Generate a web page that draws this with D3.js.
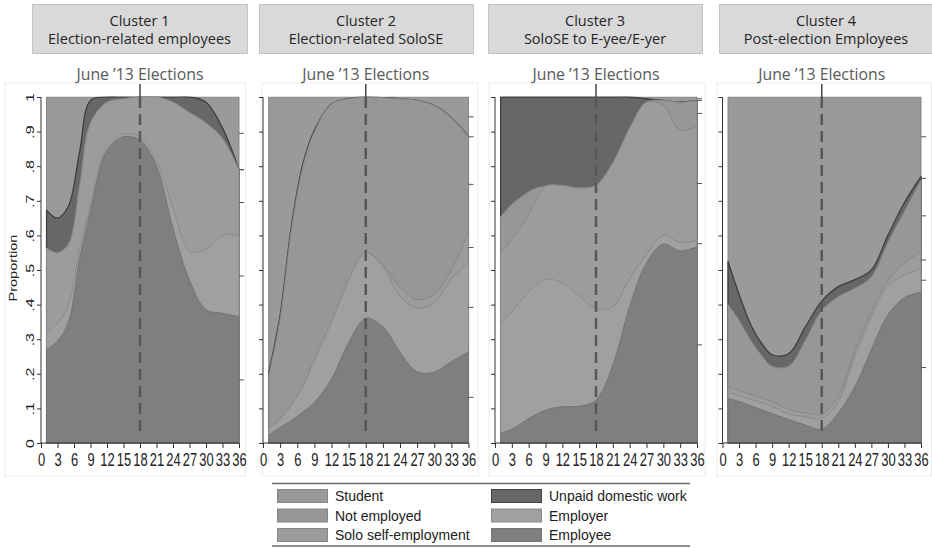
<!DOCTYPE html>
<html>
<head>
<meta charset="utf-8">
<script src="https://cdn.jsdelivr.net/npm/d3@7"></script>
<style>
  body { margin: 0; background: #fff; }
  svg { display: block; }
</style>
</head>
<body>
<svg id="chart" width="932" height="548"></svg>
<script>
// ---- data -------------------------------------------------------------
const months = [1, 3, 5, 7, 9, 12, 15, 18, 21, 24, 27, 30, 33, 36];
const xTicks = [0, 3, 6, 9, 12, 15, 18, 21, 24, 27, 30, 33, 36];
const yTicks = [0, 0.1, 0.2, 0.3, 0.4, 0.5, 0.6, 0.7, 0.8, 0.9, 1];
const yTickLabels = ["0", ".1", ".2", ".3", ".4", ".5", ".6", ".7", ".8", ".9", "1"];
const yAxisTitle = "Proportion";

const clusterTitles = ["Cluster 1", "Cluster 2", "Cluster 3", "Cluster 4"];
const clusterNames = ["Election-related employees", "Election-related SoloSE",
                      "SoloSE to E-yee/E-yer", "Post-election Employees"];
const eventLabel = "June \u201913 Elections";
const eventMonth = 18;

// stacking order, bottom to top
const seriesNames = ["Employee", "Employer", "Solo self-employment",
                     "Not employed", "Unpaid domestic work", "Student"];

// proportions per cluster (one row per cluster, one value per entry of months)
const employee = [
  [0.27, 0.295, 0.35, 0.53, 0.67, 0.845, 0.885, 0.875, 0.80, 0.62, 0.47, 0.385, 0.375, 0.365],
  [0.023, 0.045, 0.065, 0.09, 0.117, 0.185, 0.29, 0.36, 0.336, 0.262, 0.206, 0.205, 0.235, 0.264],
  [0.028, 0.04, 0.06, 0.08, 0.095, 0.105, 0.106, 0.124, 0.225, 0.395, 0.52, 0.575, 0.555, 0.567],
  [0.129, 0.12, 0.108, 0.097, 0.085, 0.068, 0.052, 0.04, 0.087, 0.162, 0.27, 0.37, 0.42, 0.436]
];
const employer = [
  [0.05, 0.05, 0.05, 0.03, 0.02, 0.01, 0.008, 0.01, 0.015, 0.06, 0.085, 0.175, 0.225, 0.235],
  [0.019, 0.025, 0.045, 0.075, 0.123, 0.165, 0.18, 0.19, 0.174, 0.163, 0.184, 0.20, 0.24, 0.256],
  [0.322, 0.339, 0.358, 0.372, 0.378, 0.358, 0.319, 0.265, 0.169, 0.08, 0.025, 0.025, 0.025, 0.018],
  [0.017, 0.017, 0.019, 0.02, 0.021, 0.016, 0.024, 0.031, 0.033, 0.088, 0.095, 0.085, 0.065, 0.069]
];
const soloSelfEmployment = [
  [0.243, 0.205, 0.175, 0.18, 0.235, 0.13, 0.102, 0.115, 0.185, 0.305, 0.40, 0.365, 0.28, 0.19],
  [0, 0, 0, 0, 0, 0, 0, 0, 0.005, 0.025, 0.025, 0.025, 0.025, 0.09],
  [0.198, 0.211, 0.217, 0.238, 0.269, 0.281, 0.312, 0.356, 0.416, 0.435, 0.44, 0.375, 0.325, 0.33],
  [0.015, 0.015, 0.014, 0.013, 0.014, 0.013, 0.011, 0.013, 0.015, 0.015, 0.015, 0.015, 0.035, 0.048]
];
const notEmployed = [
  [0, 0, 0, 0, 0, 0, 0, 0, 0, 0, 0, 0, 0, 0],
  [0.153, 0.29, 0.51, 0.635, 0.66, 0.63, 0.525, 0.45, 0.483, 0.545, 0.575, 0.545, 0.44, 0.275],
  [0.106, 0.10, 0.08, 0.045, 0, 0, 0, 0, 0, 0, 0, 0.015, 0.08, 0.075],
  [0.239, 0.203, 0.159, 0.125, 0.102, 0.125, 0.209, 0.299, 0.288, 0.182, 0.10, 0.11, 0.15, 0.207]
];
const unpaidDomesticWork = [
  [0.11, 0.10, 0.11, 0.10, 0.065, 0.015, 0.005, 0, 0, 0.015, 0.045, 0.06, 0.03, 0],
  [0.008, 0.01, 0.01, 0.008, 0.004, 0, 0, 0, 0, 0, 0, 0, 0, 0],
  [0.346, 0.31, 0.285, 0.265, 0.258, 0.256, 0.263, 0.255, 0.19, 0.09, 0.01, 0, 0, 0],
  [0.125, 0.075, 0.046, 0.035, 0.033, 0.036, 0.039, 0.027, 0.029, 0.025, 0.02, 0.02, 0.025, 0.01]
];
const student = [
  [0.327, 0.35, 0.315, 0.16, 0.01, 0, 0, 0, 0, 0, 0, 0.015, 0.09, 0.21],
  [0.797, 0.63, 0.37, 0.192, 0.096, 0.02, 0.005, 0, 0.002, 0.005, 0.01, 0.025, 0.06, 0.115],
  [0, 0, 0, 0, 0, 0, 0, 0, 0, 0, 0.005, 0.01, 0.015, 0.01],
  [0.475, 0.57, 0.654, 0.71, 0.745, 0.742, 0.665, 0.59, 0.548, 0.528, 0.50, 0.40, 0.305, 0.23]
];
const seriesValues = [employee, employer, soloSelfEmployment, notEmployed, unpaidDomesticWork, student];

// legend is filled row by row in two columns
const legendOrder = ["Student", "Unpaid domestic work", "Not employed", "Employer",
                     "Solo self-employment", "Employee"];

// ---- styles -----------------------------------------------------------
const fillColor = {
  "Employee": "#7f7f7f",
  "Employer": "#a0a0a0",
  "Solo self-employment": "#9c9c9c",
  "Not employed": "#979797",
  "Unpaid domestic work": "#676767",
  "Student": "#9a9a9a"
};
const lineColor = {
  "Employee": "#747474",
  "Employer": "#8a8a8a",
  "Solo self-employment": "#878787",
  "Not employed": "#858585",
  "Unpaid domestic work": "#3e3e3e",
  "Student": "#868686"
};

const panels = [
  { x0: 41,    x36: 239,   frame: [5, 245.5],   header: [32, 247] },
  { x0: 263,   x36: 468.5, frame: [262, 478],   header: [259, 473] },
  { x0: 495,   x36: 697,   frame: [489, 705],   header: [488, 702] },
  { x0: 722.5, x36: 921,   frame: [717, 931.5], header: [719, 933] }
];
const plotTop = 97, plotBottom = 443;
const frameTop = 83, frameBottom = 476;
const tickFont = "'Liberation Sans', Arial, sans-serif";

const svg = d3.select("#chart");
const defs = svg.append("defs");
const y = d3.scaleLinear().domain([0, 1]).range([plotBottom, plotTop]);

panels.forEach((p, c) => {
  const g = svg.append("g");
  const x = d3.scaleLinear().domain([0, 36]).range([p.x0, p.x36]);

  // panel frame
  g.append("rect")
    .attr("x", p.frame[0]).attr("y", frameTop)
    .attr("width", p.frame[1] - p.frame[0]).attr("height", frameBottom - frameTop)
    .attr("fill", "#fff").attr("stroke", "#ececec").attr("stroke-width", 1);

  // header box
  g.append("rect")
    .attr("x", p.header[0] + 0.5).attr("y", 4.5)
    .attr("width", p.header[1] - p.header[0]).attr("height", 49)
    .attr("fill", "#d9d9d9").attr("stroke", "#c4c4c4").attr("stroke-width", 1);
  const hx = (p.header[0] + p.header[1]) / 2;
  g.append("text").attr("x", hx).attr("y", 26)
    .attr("text-anchor", "middle").attr("font-family", "'Open Sans', sans-serif")
    .attr("font-size", 14.5).attr("fill", "#262626").text(clusterTitles[c]);
  g.append("text").attr("x", hx).attr("y", 44)
    .attr("text-anchor", "middle").attr("font-family", "'Open Sans', sans-serif")
    .attr("font-size", 14.5).attr("fill", "#262626").text(clusterNames[c]);

  // stacked proportions
  const rows = months.map((m, i) => {
    const r = { month: m };
    seriesNames.forEach((s, k) => { r[s] = seriesValues[k][c][i]; });
    return r;
  });
  const stacked = d3.stack().keys(seriesNames)(rows);

  // keep the smoothed curves inside the plot rectangle
  const clipId = `plot-clip-${c}`;
  defs.append("clipPath").attr("id", clipId)
    .append("rect")
    .attr("x", x(months[0]) - 1).attr("y", y(1) - 0.6)
    .attr("width", x(36) - x(months[0]) + 2).attr("height", y(0) - y(1) + 1.2);
  const plot = g.append("g").attr("clip-path", `url(#${clipId})`);

  // each layer is filled from 0 up to its cumulative top, top layer drawn first
  const area = d3.area()
    .x(d => x(d.data.month))
    .y0(y(0))
    .y1(d => y(Math.min(1, d[1])))
    .curve(d3.curveCatmullRom.alpha(0.5));
  stacked.slice().reverse().forEach(layer => {
    plot.append("path")
      .attr("d", area(layer))
      .attr("fill", fillColor[layer.key])
      .attr("stroke", lineColor[layer.key])
      .attr("stroke-width", layer.key === "Unpaid domestic work" ? 1.3 : 1)
      .attr("stroke-linejoin", "round");
  });

  // right-hand ticks at the middle of each band in the last month
  const last = months.length - 1;
  stacked.forEach(layer => {
    const mid = (layer[last][0] + layer[last][1]) / 2;
    g.append("line")
      .attr("x1", x(36)).attr("x2", x(36) + 5)
      .attr("y1", y(mid)).attr("y2", y(mid))
      .attr("stroke", "#555").attr("stroke-width", 1);
  });

  // axes
  const ax = g.append("g").attr("transform", `translate(0,${plotBottom})`)
    .call(d3.axisBottom(x).tickValues(xTicks).tickSize(5).tickFormat(""));
  ax.select(".domain").attr("stroke", "#333").attr("d", `M${x(0)},0H${x(36)}`);
  ax.selectAll(".tick line").attr("stroke", "#333");
  ax.selectAll(".tick").append("text")
    .attr("transform", "translate(0,23) scale(0.7,1)")
    .attr("text-anchor", "middle")
    .attr("font-family", tickFont)
    .attr("font-size", 18.5).attr("fill", "#222")
    .text(d => d);

  const ay = g.append("g").attr("transform", `translate(${x(0)},0)`)
    .call(d3.axisLeft(y).tickValues(yTicks).tickSize(4).tickFormat(""));
  ay.select(".domain").attr("stroke", "#333").attr("d", `M0,${y(0)}V${y(1)}`);
  ay.selectAll(".tick line").attr("stroke", "#333");
  if (c === 0) {
    ay.selectAll(".tick").append("text")
      .attr("transform", "translate(-7.5,0) scale(0.68,1) rotate(-90)")
      .attr("text-anchor", "middle")
      .attr("font-family", tickFont)
      .attr("font-size", 16).attr("fill", "#222")
      .text((d, i) => yTickLabels[i]);
    g.append("text")
      .attr("transform", `translate(17,${(plotTop + plotBottom) / 2 - 2}) scale(0.7,1) rotate(-90)`)
      .attr("text-anchor", "middle")
      .attr("font-family", tickFont)
      .attr("font-size", 14.5).attr("fill", "#222")
      .text(yAxisTitle);
  }

  // election marker
  const ex = x(eventMonth);
  g.append("line").attr("x1", ex).attr("x2", ex)
    .attr("y1", frameTop + 1).attr("y2", y(1))
    .attr("stroke", "#444").attr("stroke-width", 1.5);
  g.append("line").attr("x1", ex).attr("x2", ex)
    .attr("y1", y(1)).attr("y2", y(0.025))
    .attr("stroke", "#575757").attr("stroke-width", 2.5)
    .attr("stroke-dasharray", "11,6");
  g.append("text").attr("x", ex).attr("y", 79.5)
    .attr("text-anchor", "middle").attr("font-family", "'Open Sans', sans-serif")
    .attr("font-size", 15.8).attr("fill", "#595959").text(eventLabel);
});

// ---- legend -----------------------------------------------------------
const legend = svg.append("g");
legend.append("line").attr("x1", 272).attr("x2", 690).attr("y1", 483.5).attr("y2", 483.5)
  .attr("stroke", "#6a6a6a").attr("stroke-width", 1.5);
legend.append("line").attr("x1", 272).attr("x2", 690).attr("y1", 546).attr("y2", 546)
  .attr("stroke", "#6a6a6a").attr("stroke-width", 1.5);
const colX = [277, 491];
const rowY = [496, 515.5, 535];
legendOrder.forEach((name, i) => {
  const cx = colX[i % 2], cy = rowY[Math.floor(i / 2)];
  legend.append("rect")
    .attr("x", cx + 0.5).attr("y", cy - 6.5)
    .attr("width", 50).attr("height", 13)
    .attr("fill", fillColor[name]).attr("stroke", lineColor[name]).attr("stroke-width", 1);
  legend.append("text")
    .attr("x", cx + 58).attr("y", cy + 5)
    .attr("font-family", tickFont)
    .attr("font-size", 14).attr("fill", "#222").text(name);
});
</script>
</body>
</html>
